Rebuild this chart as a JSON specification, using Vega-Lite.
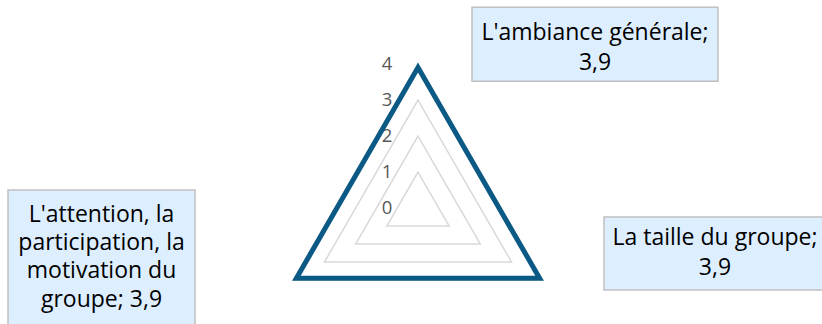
{
  "$schema": "https://vega.github.io/schema/vega-lite/v6.json",
  "width": 822,
  "height": 324,
  "padding": 0,
  "autosize": {"type": "none"},
  "background": "white",
  "config": {"view": {"stroke": null}, "font": "Open Sans"},
  "datasets": {
    "series": [
      {"cat": "L'ambiance générale", "value": 3.9, "label": "L'ambiance générale;\n3,9"},
      {"cat": "La taille du groupe", "value": 3.9, "label": "La taille du groupe;\n3,9"},
      {"cat": "L'attention, la participation, la motivation du groupe", "value": 3.9, "label": "L'attention, la\nparticipation, la\nmotivation du\ngroupe; 3,9"}
    ],
    "grid": [
      {"cat": "L'ambiance générale", "level": 1},
      {"cat": "La taille du groupe", "level": 1},
      {"cat": "L'attention, la participation, la motivation du groupe", "level": 1},
      {"cat": "L'ambiance générale", "level": 2},
      {"cat": "La taille du groupe", "level": 2},
      {"cat": "L'attention, la participation, la motivation du groupe", "level": 2},
      {"cat": "L'ambiance générale", "level": 3},
      {"cat": "La taille du groupe", "level": 3},
      {"cat": "L'attention, la participation, la motivation du groupe", "level": 3},
      {"cat": "L'ambiance générale", "level": 4},
      {"cat": "La taille du groupe", "level": 4},
      {"cat": "L'attention, la participation, la motivation du groupe", "level": 4}
    ],
    "ticks": [{"level": 0}, {"level": 1}, {"level": 2}, {"level": 3}, {"level": 4}]
  },
  "layer": [
    {
      "data": {"name": "grid"},
      "transform": [
        {"calculate": "indexof([\"L'ambiance générale\", \"La taille du groupe\", \"L'attention, la participation, la motivation du groupe\"], datum.cat)", "as": "idx"},
        {"calculate": "datum.level * sin(datum.idx * 2 * PI / 3)", "as": "px"},
        {"calculate": "datum.level * cos(datum.idx * 2 * PI / 3)", "as": "py"}
      ],
      "mark": {"type": "line", "interpolate": "linear-closed", "color": "#D9D9D9", "strokeWidth": 1.5},
      "encoding": {
        "x": {"field": "px", "type": "quantitative", "scale": {"domain": [-11.6111, 11.2222], "nice": false, "zero": false}, "axis": null},
        "y": {"field": "py", "type": "quantitative", "scale": {"domain": [-3.2222, 5.7778], "nice": false, "zero": false}, "axis": null},
        "detail": {"field": "level"},
        "order": {"field": "idx"}
      }
    },
    {
      "data": {"name": "ticks"},
      "mark": {"type": "text", "dx": -31, "align": "center", "baseline": "middle", "fontSize": 18.5, "color": "#595959"},
      "encoding": {
        "x": {"datum": 0, "type": "quantitative"},
        "y": {"field": "level", "type": "quantitative"},
        "text": {"field": "level"}
      }
    },
    {
      "data": {"name": "series"},
      "transform": [
        {"calculate": "indexof([\"L'ambiance générale\", \"La taille du groupe\", \"L'attention, la participation, la motivation du groupe\"], datum.cat)", "as": "idx"},
        {"calculate": "datum.value * sin(datum.idx * 2 * PI / 3)", "as": "px"},
        {"calculate": "datum.value * cos(datum.idx * 2 * PI / 3)", "as": "py"}
      ],
      "layer": [
        {
          "mark": {"type": "line", "interpolate": "linear-closed", "color": "#0B5A85", "strokeWidth": 5, "strokeJoin": "miter"},
          "encoding": {
            "x": {"field": "px", "type": "quantitative"},
            "y": {"field": "py", "type": "quantitative"},
            "order": {"field": "idx"}
          }
        },
        {
          "transform": [{"filter": "datum.idx == 0"}],
          "mark": {"type": "rect", "width": 246, "height": 74, "xOffset": 177, "yOffset": -23.4, "fill": "#DDEEFF", "stroke": "#C0C0C0", "strokeWidth": 1.5},
          "encoding": {"x": {"field": "px", "type": "quantitative"}, "y": {"field": "py", "type": "quantitative"}}
        },
        {
          "transform": [{"filter": "datum.idx == 1"}],
          "mark": {"type": "rect", "width": 222, "height": 73, "xOffset": 175.4, "yOffset": -24.7, "fill": "#DDEEFF", "stroke": "#C0C0C0", "strokeWidth": 1.5},
          "encoding": {"x": {"field": "px", "type": "quantitative"}, "y": {"field": "py", "type": "quantitative"}}
        },
        {
          "transform": [{"filter": "datum.idx == 2"}],
          "mark": {"type": "rect", "width": 187, "height": 140, "xOffset": -194.9, "yOffset": -18.2, "fill": "#DDEEFF", "stroke": "#C0C0C0", "strokeWidth": 1.5},
          "encoding": {"x": {"field": "px", "type": "quantitative"}, "y": {"field": "py", "type": "quantitative"}}
        },
        {
          "transform": [{"filter": "datum.idx == 0"}],
          "mark": {"type": "text", "dx": 177, "dy": -34.6, "align": "center", "baseline": "middle", "fontSize": 23, "lineHeight": 30, "lineBreak": "\n", "color": "#000000"},
          "encoding": {"x": {"field": "px", "type": "quantitative"}, "y": {"field": "py", "type": "quantitative"}, "text": {"field": "label"}}
        },
        {
          "transform": [{"filter": "datum.idx == 1"}],
          "mark": {"type": "text", "dx": 175.4, "dy": -40.2, "align": "center", "baseline": "middle", "fontSize": 23, "lineHeight": 30, "lineBreak": "\n", "color": "#000000"},
          "encoding": {"x": {"field": "px", "type": "quantitative"}, "y": {"field": "py", "type": "quantitative"}, "text": {"field": "label"}}
        },
        {
          "transform": [{"filter": "datum.idx == 2"}],
          "mark": {"type": "text", "dx": -194.9, "dy": -63.5, "align": "center", "baseline": "middle", "fontSize": 23, "lineHeight": 28.3, "lineBreak": "\n", "color": "#000000"},
          "encoding": {"x": {"field": "px", "type": "quantitative"}, "y": {"field": "py", "type": "quantitative"}, "text": {"field": "label"}}
        }
      ]
    }
  ]
}
